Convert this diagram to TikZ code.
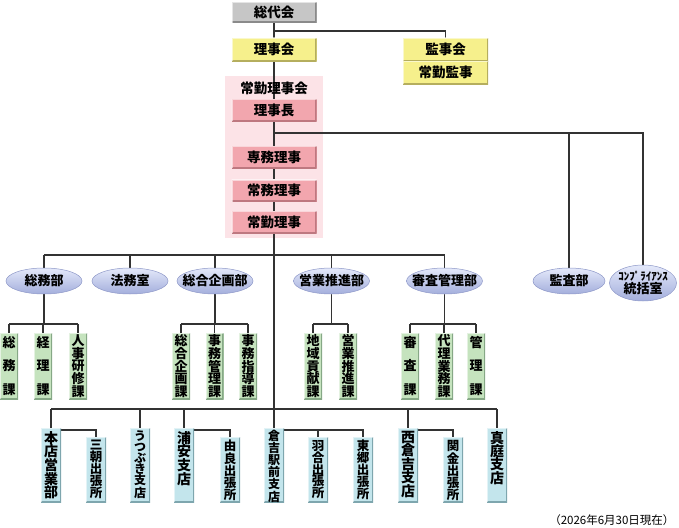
\documentclass[tikz,border=0pt]{standalone}
\usepackage{fontspec}
\setmainfont{Noto Sans CJK JP}
\usetikzlibrary{shapes.geometric,backgrounds,calc}
\definecolor{ln}{HTML}{333333}
\definecolor{grayf}{HTML}{C6C6C6}
\definecolor{grays}{HTML}{8A8A8A}
\definecolor{yelf}{HTML}{F6F08C}
\definecolor{yels}{HTML}{B5AE5E}
\definecolor{pinkf}{HTML}{F2A6AE}
\definecolor{pinks}{HTML}{BE7880}
\definecolor{pinkbg}{HTML}{FCE3E7}
\definecolor{grnf}{HTML}{C5E3BE}
\definecolor{grns}{HTML}{86A886}
\definecolor{cyf}{HTML}{C3E5EC}
\definecolor{cys}{HTML}{7EA6AE}
\definecolor{ellT}{HTML}{E4E9FA}
\definecolor{ellB}{HTML}{A3AEDC}
\definecolor{ellD}{HTML}{8E98C8}
\newcommand\sectbox[5]{% name, x, first-char offset, line skip, text
  \node[secbox,anchor=north] (#1) at (#2,333) {};
  \node[vt,anchor=north,font=\fontsize{13}{#4}\selectfont\bfseries] (#1t) at ([yshift=-#3]#1.north) {#5};
}
\newcommand\brbox[7]{% name, x, top, height, font size/skip, offset, text
  \node[brbx,anchor=north,minimum height=#4] (#1) at (#2,#3) {};
  \node[vt,anchor=north,font=#5\bfseries] (#1t) at ([yshift=-#6]#1.north) {#7};
}
\newcommand\ellnode[5]{% name, x, y, width, text
  \node[ell,minimum width=#4] (#1) at (#2,#3) {};
  \node[etext] (#1t) at (#1.center) {#5};
}
\begin{document}
\begin{tikzpicture}[x=1pt,y=-1pt,
  conn/.style={draw=ln,line width=1.1pt},
  bevel/.style={path picture={
    \draw[#1,line width=3pt] (path picture bounding box.south west) -- (path picture bounding box.south east) -- (path picture bounding box.north east);
    \draw[white,opacity=0.55,line width=2pt] (path picture bounding box.south west) -- (path picture bounding box.north west) -- (path picture bounding box.north east);
  }},
  hbox/.style={rectangle,inner sep=0pt,minimum width=85pt,minimum height=22pt,font=\fontsize{13.5}{15}\selectfont\bfseries},
  graybox/.style={hbox,fill=grayf,bevel=grays},
  yelbox/.style={hbox,fill=yelf,bevel=yels},
  pinkbox/.style={hbox,fill=pinkf,bevel=pinks},
  secbox/.style={rectangle,inner sep=0pt,minimum width=18pt,minimum height=66pt,fill=grnf,bevel=grns},
  brbx/.style={rectangle,inner sep=0pt,minimum width=20pt,fill=cyf,bevel=cys},
  vt/.style={inner sep=0pt,align=center},
  ell/.style={ellipse,inner sep=0pt,minimum height=26pt,top color=ellT,bottom color=ellB,draw=ellD,line width=0.5pt},
  etext/.style={inner sep=0pt,align=center,font=\fontsize{13}{15}\selectfont\bfseries}
]
\useasboundingbox (0,0) rectangle (679,527);

% helper rows
\coordinate (yA) at (0,31);
\coordinate (yB) at (0,133);
\coordinate (yC) at (0,255);
\coordinate (yD) at (0,324);
\coordinate (yE) at (0,409);

% top boxes
\node[graybox,minimum height=21pt] (sodai) at (274,12.5) {総代会};
\node[yelbox,minimum height=23pt] (rijikai) at (274,49.5) {理事会};
\node[yelbox,minimum height=23pt] (kanjikai) at (445.5,49.5) {監事会};
\node[yelbox,minimum height=23pt] (jokinkanji) at (445.5,72.5) {常勤監事};

\node[font=\fontsize{13.5}{15}\selectfont\bfseries] (jokinlabel) at (274,88) {常勤理事会};
\node[pinkbox] (richo) at (274,110) {理事長};
\node[pinkbox] (senmu) at (274,157) {専務理事};
\node[pinkbox] (jomu) at (274,190.5) {常務理事};
\node[pinkbox] (jokin) at (274,222) {常勤理事};

% ellipses
\ellnode{soumubu}{44}{281}{76pt}{総務部}
\ellnode{homu}{130}{281}{76pt}{法務室}
\ellnode{sogo}{215}{281}{76pt}{総合企画部}
\ellnode{eigyo}{331.5}{281}{76pt}{営業推進部}
\ellnode{shinsa}{444.5}{281}{76pt}{審査管理部}
\ellnode{kansa}{569}{281}{72pt}{監査部}
\node[ell,minimum width=67pt,minimum height=36pt] (comp) at (643,283) {};
\node[etext] (compt) at (comp.center) {{\fontsize{11}{12}\selectfont ｺﾝﾌﾟﾗｲｱﾝｽ}\\[-2pt]統括室};

% sections
\sectbox{soumuka}{9}{3pt}{23.5pt}{総\\務\\課}
\sectbox{keirika}{43}{3pt}{23.5pt}{経\\理\\課}
\sectbox{jinjika}{78}{1.5pt}{12.7pt}{人\\事\\研\\修\\課}
\sectbox{sogoka}{181}{1.5pt}{12.7pt}{総\\合\\企\\画\\課}
\sectbox{kanrika}{214.5}{1.5pt}{12.7pt}{事\\務\\管\\理\\課}
\sectbox{shidoka}{248}{1.5pt}{12.7pt}{事\\務\\指\\導\\課}
\sectbox{chiikika}{313}{1.5pt}{12.7pt}{地\\域\\貢\\献\\課}
\sectbox{suishinka}{348}{1.5pt}{12.7pt}{営\\業\\推\\進\\課}
\sectbox{shinsaka}{410}{3pt}{23.5pt}{審\\査\\課}
\sectbox{dairika}{444}{1.5pt}{12.7pt}{代\\理\\業\\務\\課}
\sectbox{kanrika2}{476}{3pt}{23.5pt}{管\\理\\課}

% branches
\brbox{honten}{51}{428}{74pt}{\fontsize{14}{13.7}\selectfont}{3pt}{本\\店\\営\\業\\部}
\brbox{misasa}{96}{437}{65pt}{\fontsize{12.5}{11.9}\selectfont}{3pt}{三\\朝\\出\\張\\所}
\brbox{utsubuki}{140}{428}{74pt}{\fontsize{12}{11.2}\selectfont}{2pt}{う\\つ\\ぶ\\き\\支\\店}
\brbox{urayasu}{184}{428}{74pt}{\fontsize{14}{13.7}\selectfont}{3pt}{浦\\安\\支\\店}
\brbox{yura}{230}{437}{65pt}{\fontsize{12.5}{11.9}\selectfont}{3pt}{由\\良\\出\\張\\所}
\brbox{kurayoshi}{274}{428}{74pt}{\fontsize{12}{11.2}\selectfont}{2pt}{倉\\吉\\駅\\前\\支\\店}
\brbox{hawai}{318}{437}{65pt}{\fontsize{12.5}{11.9}\selectfont}{3pt}{羽\\合\\出\\張\\所}
\brbox{togo}{363}{437}{65pt}{\fontsize{12.5}{11.9}\selectfont}{3pt}{東\\郷\\出\\張\\所}
\brbox{nishikura}{408}{428}{74pt}{\fontsize{14}{13.4}\selectfont}{3pt}{西\\倉\\吉\\支\\店}
\brbox{sekigane}{453}{437}{65pt}{\fontsize{12.5}{11.9}\selectfont}{3pt}{関\\金\\出\\張\\所}
\brbox{maniwa}{497}{428}{74pt}{\fontsize{14}{13.4}\selectfont}{3pt}{真\\庭\\支\\店}

\node[anchor=east,font=\fontsize{11.5}{13}\selectfont] (asof) at (678,520) {（2026年6月30日現在）};

\begin{pgfonlayer}{background}
  \fill[pinkbg] (225,76) rectangle (323,238);
  % top
  \draw[conn] (sodai.south) -- (rijikai.north);
  \draw[conn] (sodai.south |- yA) -| (kanjikai.north);
  \draw[conn] (rijikai.south) -- (richo.north);
  \draw[conn] (richo.south) -- (senmu.north);
  \draw[conn] (senmu.south) -- (jomu.north);
  \draw[conn] (jomu.south) -- (jokin.north);
  \draw[conn] (richo.south |- yB) -| (comp.north);
  \draw[conn] (kansa.north |- yB) -- (kansa.north);
  % main trunk
  \draw[conn] (jokin.south) -- (kurayoshi.north);
  \draw[conn] (soumubu.north |- yC) -- (shinsa.north |- yC);
  \foreach \n in {soumubu,homu,sogo,eigyo,shinsa}{\draw[conn] (\n.north |- yC) -- (\n.north);}
  % sections
  \draw[conn] (soumubu.south) -- (soumubu.south |- yD);
  \draw[conn] (soumuka.north |- yD) -- (jinjika.north |- yD);
  \draw[conn] (sogo.south) -- (sogo.south |- yD);
  \draw[conn] (sogoka.north |- yD) -- (shidoka.north |- yD);
  \draw[conn] (eigyo.south) -- (eigyo.south |- yD);
  \draw[conn] (chiikika.north |- yD) -- (suishinka.north |- yD);
  \draw[conn] (shinsa.south) -- (shinsa.south |- yD);
  \draw[conn] (shinsaka.north |- yD) -- (kanrika2.north |- yD);
  \foreach \n in {soumuka,keirika,jinjika,sogoka,kanrika,shidoka,chiikika,suishinka,shinsaka,dairika,kanrika2}{\draw[conn] (\n.north |- yD) -- (\n.north);}
  % branches
  \draw[conn] (honten.north |- yE) -- (maniwa.north |- yE);
  \foreach \n in {honten,utsubuki,urayasu,nishikura,maniwa}{\draw[conn] (\n.north |- yE) -- (\n.north);}
  \coordinate (h1) at ([yshift=-2pt]honten.north east);
  \draw[conn] (h1) -| (misasa.north);
  \coordinate (u1) at ([yshift=-2pt]urayasu.north east);
  \draw[conn] (u1) -| (yura.north);
  \coordinate (k1) at ([yshift=-2pt]kurayoshi.north east);
  \draw[conn] (k1) -| (togo.north);
  \draw[conn] (hawai.north |- k1) -- (hawai.north);
  \coordinate (n1) at ([yshift=-2pt]nishikura.north east);
  \draw[conn] (n1) -| (sekigane.north);
\end{pgfonlayer}
\end{tikzpicture}
\end{document}
